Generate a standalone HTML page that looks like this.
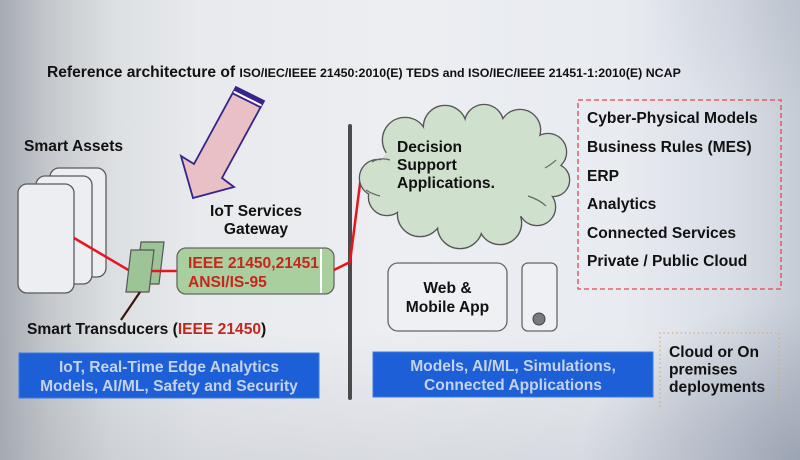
<!DOCTYPE html>
<html>
<head>
<meta charset="utf-8">
<style>
html,body{margin:0;padding:0;}
body{width:800px;height:460px;overflow:hidden;position:relative;
background:
radial-gradient(ellipse 220px 160px at 100% 100%, rgba(130,140,160,0.55), rgba(130,140,160,0) 100%),
radial-gradient(ellipse 160px 120px at 100% 0%, rgba(170,178,192,0.35), rgba(170,178,192,0) 100%),
linear-gradient(to bottom, rgba(160,165,175,0) 0%, rgba(160,165,175,0) 72%, rgba(160,165,175,0.25) 100%),
linear-gradient(to right, #a6abb3 0%, #c4c8cc 6%, #dcdfe2 14%, #e8eaee 25%, #eceef2 50%, #e8ebf0 78%, #d8dde5 92%, #c6ccd5 100%);
}
svg{position:absolute;left:0;top:0;}
text{font-family:"Liberation Sans",Arial,sans-serif;font-weight:bold;}
</style>
</head>
<body>
<svg width="800" height="460" viewBox="0 0 800 460" xmlns="http://www.w3.org/2000/svg">
  <!-- Title -->
  <text x="47" y="77" font-size="15.6" fill="#111">Reference architecture of <tspan font-size="12.4">ISO/IEC/IEEE 21450:2010(E) TEDS and ISO/IEC/IEEE 21451-1:2010(E) NCAP</tspan></text>

  <!-- Arrow -->
  <polygon points="236,87 264,101 222,178 234,187 193,198 181,156 194,164" fill="#e8c0c6" stroke="#35258a" stroke-width="1.8" stroke-linejoin="miter"/>
  <line x1="235" y1="88.8" x2="263" y2="102.8" stroke="#35258a" stroke-width="4"/>
  <line x1="233.6" y1="91.6" x2="261.6" y2="105.6" stroke="#ffffff" stroke-width="1.5"/>
  <line x1="232.7" y1="93.4" x2="260.7" y2="107.4" stroke="#35258a" stroke-width="1.8"/>

  <!-- Smart Assets -->
  <text x="24" y="151" font-size="15.6" fill="#111">Smart Assets</text>
  <rect x="50" y="168" width="56" height="109" rx="9" fill="#eceef1" stroke="#5a5a5a" stroke-width="1.3"/>
  <rect x="36" y="176" width="56" height="108" rx="9" fill="#eceef1" stroke="#5a5a5a" stroke-width="1.3"/>
  <rect x="18" y="184" width="56" height="109" rx="9" fill="#eceef1" stroke="#5a5a5a" stroke-width="1.3"/>

  <!-- red line asset -> transducer -->
  <line x1="74" y1="238" x2="130" y2="271" stroke="#e8141e" stroke-width="2.5"/>

  <!-- Transducers -->
  <polygon points="141,242 164,242 159,284 136,284" fill="#9cc497" stroke="#555" stroke-width="1.2"/>
  <polygon points="131,250 154,250 149,292 126,292" fill="#9cc497" stroke="#555" stroke-width="1.2"/>
  <line x1="152" y1="271" x2="178" y2="271" stroke="#e8141e" stroke-width="2.5"/>
  <line x1="140" y1="292" x2="121" y2="320" stroke="#3a1510" stroke-width="2.2"/>

  <text x="27" y="334" font-size="15.6" fill="#111">Smart Transducers (<tspan fill="#c0281e">IEEE 21450</tspan>)</text>

  <!-- Gateway -->
  <text x="256" y="216" font-size="15.6" fill="#111" text-anchor="middle">IoT Services</text>
  <text x="256" y="234" font-size="15.6" fill="#111" text-anchor="middle">Gateway</text>
  <rect x="177" y="248" width="157" height="46" rx="9" fill="#a9cf9f" stroke="#666" stroke-width="1.3"/>
  <line x1="321" y1="249" x2="321" y2="293" stroke="#ffffff" stroke-width="2"/>
  <text x="188" y="268" font-size="15.6" fill="#c8261c">IEEE 21450,21451</text>
  <text x="188" y="287" font-size="15.6" fill="#c8261c">ANSI/IS-95</text>

  <!-- Left blue box -->
  <rect x="19" y="353" width="300" height="45" fill="#1c5fd7" stroke="#3d7be2" stroke-width="1"/>
  <text x="169" y="372" font-size="15.6" fill="#c5d2ec" text-anchor="middle">IoT, Real-Time Edge Analytics</text>
  <text x="169" y="391" font-size="15.6" fill="#c5d2ec" text-anchor="middle">Models, AI/ML, Safety and Security</text>

  <!-- Vertical bar -->
  <rect x="348" y="124" width="4" height="276" rx="2" fill="#4b4b4d"/>

  <!-- red lines to cloud -->
  <polyline points="334,270 350,262 361,176" fill="none" stroke="#e8141e" stroke-width="2.5"/>

  <!-- Cloud -->
  <g stroke="#555" stroke-width="2.6" fill="#555">
    <circle cx="378" cy="178" r="18"/>
    <circle cx="405" cy="140" r="22"/>
    <circle cx="445" cy="127" r="21"/>
    <circle cx="484" cy="124" r="19"/>
    <circle cx="520" cy="130" r="20"/>
    <circle cx="548" cy="152" r="18"/>
    <circle cx="553" cy="180" r="16"/>
    <circle cx="537" cy="207" r="18"/>
    <circle cx="500" cy="223" r="21"/>
    <circle cx="460" cy="226" r="22"/>
    <circle cx="420" cy="214" r="22"/>
    <circle cx="387" cy="197" r="18"/>
  </g>
  <g fill="#cfe0cc">
    <circle cx="378" cy="178" r="18"/>
    <circle cx="405" cy="140" r="22"/>
    <circle cx="445" cy="127" r="21"/>
    <circle cx="484" cy="124" r="19"/>
    <circle cx="520" cy="130" r="20"/>
    <circle cx="548" cy="152" r="18"/>
    <circle cx="553" cy="180" r="16"/>
    <circle cx="537" cy="207" r="18"/>
    <circle cx="500" cy="223" r="21"/>
    <circle cx="460" cy="226" r="22"/>
    <circle cx="420" cy="214" r="22"/>
    <circle cx="387" cy="197" r="18"/>
    <ellipse cx="465" cy="176" rx="88" ry="52"/>
  </g>
  <g fill="none" stroke="#666" stroke-width="1.2">
    <path d="M372,162 Q380,157 390,160"/>
    <path d="M380,196 Q372,194 366,190"/>
    <path d="M528,196 Q540,200 546,206"/>
    <path d="M545,168 Q552,164 556,160"/>
  </g>
  <text x="397" y="152" font-size="15.6" fill="#111">Decision</text>
  <text x="397" y="170" font-size="15.6" fill="#111">Support</text>
  <text x="397" y="188" font-size="15.6" fill="#111">Applications.</text>

  <!-- Web & Mobile -->
  <rect x="388" y="263" width="119" height="68" rx="10" fill="#eef0f3" stroke="#666" stroke-width="1.3"/>
  <text x="447.5" y="293" font-size="15.6" fill="#111" text-anchor="middle">Web &amp;</text>
  <text x="447.5" y="312" font-size="15.6" fill="#111" text-anchor="middle">Mobile App</text>
  <rect x="522" y="263" width="35" height="68" rx="6" fill="#eef0f3" stroke="#666" stroke-width="1.3"/>
  <circle cx="539" cy="319" r="6" fill="#7a7a7c" stroke="#444" stroke-width="1"/>

  <!-- Right blue box -->
  <rect x="373" y="352" width="280" height="45" fill="#1c5fd7" stroke="#3d7be2" stroke-width="1"/>
  <text x="513" y="371" font-size="15.6" fill="#c5d2ec" text-anchor="middle">Models, AI/ML, Simulations,</text>
  <text x="513" y="390" font-size="15.6" fill="#c5d2ec" text-anchor="middle">Connected Applications</text>

  <!-- Dashed list box -->
  <rect x="578" y="100" width="203" height="189" fill="none" stroke="#e84352" stroke-width="1.3" stroke-dasharray="5,3"/>
  <text x="587" y="123" font-size="15.6" fill="#111">Cyber-Physical Models</text>
  <text x="587" y="152" font-size="15.6" fill="#111">Business Rules (MES)</text>
  <text x="587" y="181" font-size="15.6" fill="#111">ERP</text>
  <text x="587" y="209" font-size="15.6" fill="#111">Analytics</text>
  <text x="587" y="238" font-size="15.6" fill="#111">Connected Services</text>
  <text x="587" y="266" font-size="15.6" fill="#111">Private / Public Cloud</text>

  <!-- Dotted deployment box -->
  <polyline points="660,407 660,333 779,333 779,407" fill="none" stroke="#d6a86c" stroke-width="1.3" stroke-dasharray="1.3,3"/>
  <text x="669" y="357" font-size="15.6" fill="#111">Cloud or On</text>
  <text x="669" y="374.5" font-size="15.6" fill="#111">premises</text>
  <text x="669" y="392" font-size="15.6" fill="#111">deployments</text>
</svg>
</body>
</html>
